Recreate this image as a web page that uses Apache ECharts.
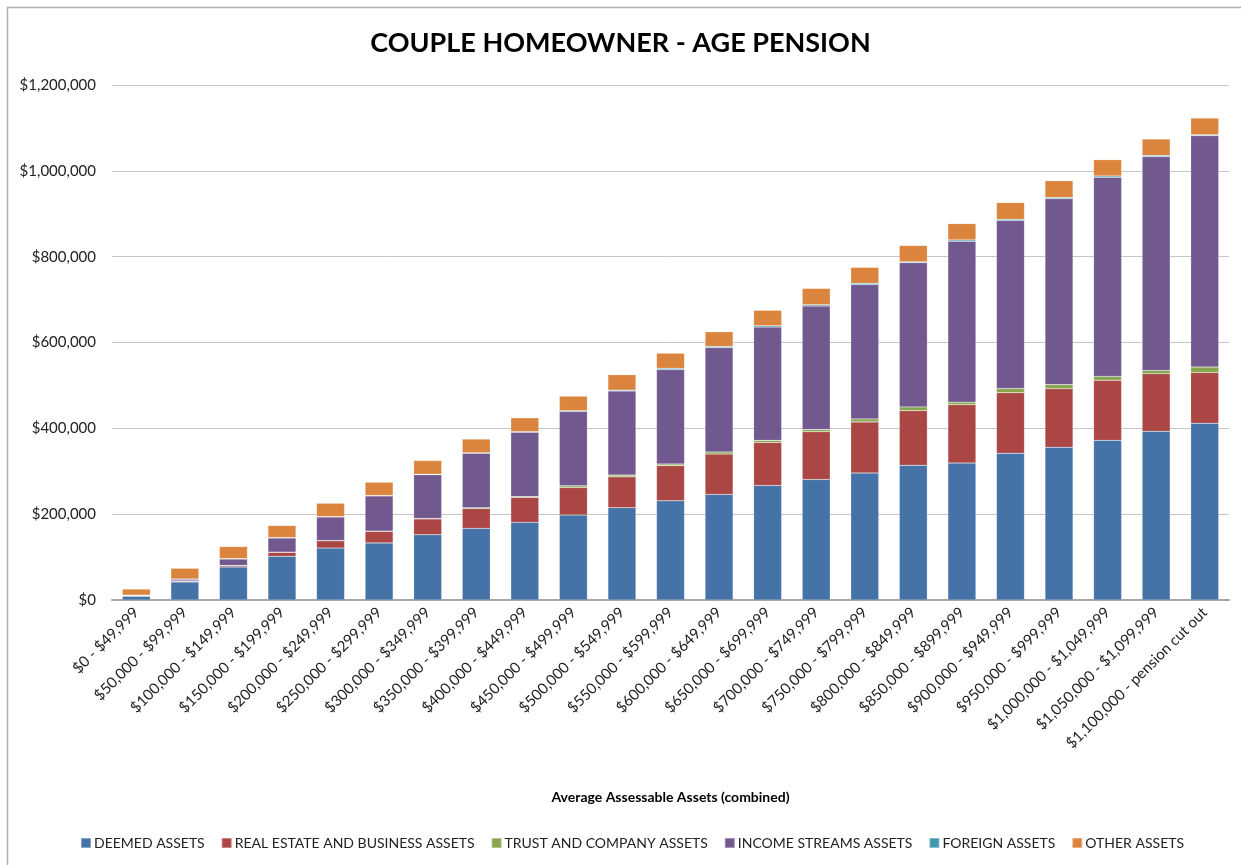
<!DOCTYPE html>
<html>
<head>
<meta charset="utf-8">
<script src="https://cdn.jsdelivr.net/npm/echarts@6/dist/echarts.min.js"></script>
<style>
body { margin:0; background:#fff; }
#chart { width:1241px; height:865px; }
</style>
</head>
<body>
<div id="chart"></div>
<script>
var categories = ['$0 - $49,999','$50,000 - $99,999','$100,000 - $149,999','$150,000 - $199,999',
	'$200,000 - $249,999','$250,000 - $299,999','$300,000 - $349,999','$350,000 - $399,999',
	'$400,000 - $449,999','$450,000 - $499,999','$500,000 - $549,999','$550,000 - $599,999',
	'$600,000 - $649,999','$650,000 - $699,999','$700,000 - $749,999','$750,000 - $799,999',
	'$800,000 - $849,999','$850,000 - $899,999','$900,000 - $949,999','$950,000 - $999,999',
	'$1,000,000 - $1,049,999','$1,050,000 - $1,099,999','$1,100,000 - pension cut out'];

// values, dollars
var deemed     = [9000,42000,77000,102000,121000,133000,152000,167000,181000,198000,215000,231000,246000,267000,281000,296000,314000,319000,342000,356000,372000,393000,412000];
var realEstate = [500,2000,3000,9000,17000,27000,37000,46000,58000,64000,72000,82000,94000,100000,111000,119000,127000,136000,141000,136000,140000,134000,118000];
var trust      = [200,500,500,500,500,500,1000,2000,2000,4000,4000,4000,5000,5000,5000,7000,9000,6000,10000,10000,9000,8000,13000];
var income     = [1500,4000,15000,33000,55000,82000,102000,127000,150000,173000,196000,220000,243000,264000,288000,313000,336000,375000,391000,433000,464000,498000,539000];
var foreign    = [300,500,1000,1000,1000,1000,1000,1000,1500,2000,2000,3000,3000,3000,3000,3000,2000,3000,3000,3000,3000,3000,2000];
var other      = [14000,25000,28000,28000,31000,31000,32000,32000,32000,34000,36000,35000,34000,36000,38000,37000,38000,38000,39000,39000,38000,38000,39000];

var seriesNames = ['DEEMED ASSETS','REAL ESTATE AND BUSINESS ASSETS','TRUST AND COMPANY ASSETS','INCOME STREAMS ASSETS','FOREIGN ASSETS','OTHER ASSETS'];
var seriesData = [deemed, realEstate, trust, income, foreign, other];
var colors = ['#4572A7','#AA4643','#89A54E','#71588F','#4198AF','#DB843D'];

var font = 'Lato, "Open Sans", sans-serif';

var series = [];
for(var i=0;i<seriesNames.length;i++)
{
	series.push({
		name: seriesNames[i],
		type: 'bar',
		stack: 'total',
		barWidth: 28,
		itemStyle: { color: colors[i], borderColor: 'rgba(255,255,255,0.35)', borderWidth: 0.5 },
		data: seriesData[i]
	});
}

var myChart = echarts.init(document.getElementById('chart'));
var option = {
	animation: false,
	color: colors,
	title: {
		text: 'COUPLE HOMEOWNER - AGE PENSION',
		left: 'center',
		top: 25,
		textStyle: { fontFamily: font, fontSize: 27, fontWeight: 'bold', color: '#000' }
	},
	graphic: [{
		type: 'rect',
		shape: { x: 7.5, y: 7.5, width: 1300, height: 1000 },
		style: { fill: 'none', stroke: '#B0B0B0', lineWidth: 1.5 },
		silent: true
	}],
	legend: {
		bottom: 10,
		left: 75,
		itemWidth: 10,
		itemHeight: 10,
		itemGap: 16,
		icon: 'rect',
		textStyle: { fontFamily: font, fontSize: 14, color: '#222', padding: [0,0,0,-2] },
		data: seriesNames
	},
	grid: { left: 112, right: 12, top: 85, bottom: 265 },
	xAxis: {
		type: 'category',
		data: categories,
		name: 'Average Assessable Assets (combined)',
		nameLocation: 'middle',
		nameGap: 190,
		nameTextStyle: { fontFamily: font, fontSize: 14, fontWeight: 'bold', color: '#000' },
		axisTick: { show: false },
		axisLine: { lineStyle: { color: '#A6A6A6', width: 2 } },
		axisLabel: { rotate: 45, interval: 0, margin: 10, fontFamily: font, fontSize: 15, color: '#222' }
	},
	yAxis: {
		type: 'value',
		min: 0,
		max: 1200000,
		interval: 200000,
		axisLine: { show: false },
		axisTick: { show: false },
		splitLine: { lineStyle: { color: '#C6C6C6', width: 1 } },
		axisLabel: {
			margin: 16,
			fontFamily: font, fontSize: 15, color: '#222',
			formatter: function(v){ return '$' + v.toLocaleString('en-US'); }
		}
	},
	series: series
};
myChart.setOption(option);
</script>
</body>
</html>
